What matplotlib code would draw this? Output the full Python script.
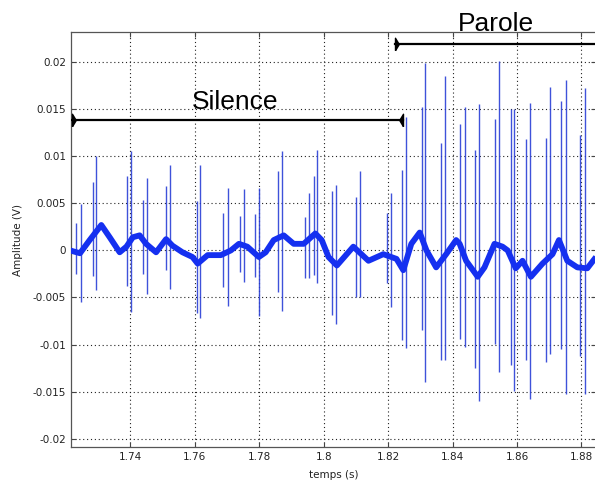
"""Speech signal excerpt: silence vs. parole (MATLAB-style plot)."""

import matplotlib

matplotlib.use("Agg")
import matplotlib.pyplot as plt

# slow baseline wave (s, V)
base_t = [1.7213, 1.7244, 1.7274, 1.7310, 1.7336, 1.7367, 1.7388, 1.7408, 1.7429,
          1.7449, 1.7480, 1.7511, 1.7531, 1.7562, 1.7593, 1.7609, 1.7640, 1.7681,
          1.7712, 1.7737, 1.7763, 1.7799, 1.7820, 1.7845, 1.7876, 1.7907, 1.7938,
          1.7974, 1.7994, 1.8015, 1.8041, 1.8092, 1.8139, 1.8185, 1.8226, 1.8247,
          1.8272, 1.8298, 1.8319, 1.8349, 1.8380, 1.8411, 1.8422, 1.8442, 1.8478,
          1.8499, 1.8530, 1.8555, 1.8571, 1.8596, 1.8617, 1.8643, 1.8679, 1.8710,
          1.8730, 1.8756, 1.8787, 1.8818, 1.8845]
base_v = [0.0000, -0.0003, 0.0011, 0.0027, 0.0014, -0.0002, 0.0004, 0.0014, 0.0016,
          0.0007, -0.0002, 0.0012, 0.0005, -0.0002, -0.0007, -0.0014, -0.0005, -0.0005,
          0.0000, 0.0007, 0.0004, -0.0007, -0.0002, 0.0011, 0.0016, 0.0007, 0.0007,
          0.0018, 0.0011, -0.0007, -0.0016, 0.0004, -0.0011, -0.0004, -0.0009, -0.0021,
          0.0007, 0.0019, 0.0000, -0.0018, -0.0004, 0.0011, 0.0007, -0.0011, -0.0028,
          -0.0018, 0.0007, 0.0004, 0.0000, -0.0019, -0.0011, -0.0028, -0.0014, -0.0004,
          0.0011, -0.0011, -0.0018, -0.0019, -0.0007]

# impulse spikes: time, max, min
spike_t = [1.7233, 1.7246, 1.7283, 1.7295, 1.7390, 1.7401, 1.7439, 1.7451, 1.7511,
           1.7524, 1.7607, 1.7617, 1.7688, 1.7702, 1.7740, 1.7753, 1.7787, 1.7799,
           1.7859, 1.7872, 1.7943, 1.7956, 1.7969, 1.7980, 1.8027, 1.8039, 1.8099,
           1.8112, 1.8195, 1.8209, 1.8244, 1.8255, 1.8304, 1.8315, 1.8365, 1.8377,
           1.8424, 1.8437, 1.8471, 1.8483, 1.8532, 1.8544, 1.8581, 1.8592, 1.8628,
           1.8641, 1.8690, 1.8701, 1.8737, 1.8751, 1.8794, 1.8810]
spike_hi = [0.0029, 0.0049, 0.0073, 0.0100, 0.0079, 0.0106, 0.0054, 0.0077, 0.0068,
            0.0091, 0.0052, 0.0091, 0.0040, 0.0066, 0.0037, 0.0065, 0.0039, 0.0066,
            0.0084, 0.0106, 0.0035, 0.0061, 0.0079, 0.0107, 0.0063, 0.0069, 0.0057,
            0.0084, 0.0040, 0.0061, 0.0085, 0.0142, 0.0152, 0.0199, 0.0114, 0.0185,
            0.0134, 0.0152, 0.0107, 0.0156, 0.0140, 0.0201, 0.0150, 0.0150, 0.0118,
            0.0157, 0.0119, 0.0174, 0.0159, 0.0181, 0.0123, 0.0173]
spike_lo = [-0.0025, -0.0055, -0.0027, -0.0042, -0.0038, -0.0065, -0.0025, -0.0046, -0.0021,
            -0.0041, -0.0067, -0.0072, -0.0039, -0.0059, -0.0023, -0.0034, -0.0028, -0.0070,
            -0.0044, -0.0064, -0.0029, -0.0029, -0.0026, -0.0035, -0.0069, -0.0078, -0.0049,
            -0.0050, -0.0035, -0.0060, -0.0095, -0.0104, -0.0084, -0.0140, -0.0116, -0.0116,
            -0.0094, -0.0103, -0.0125, -0.0160, -0.0099, -0.0129, -0.0122, -0.0149, -0.0116,
            -0.0158, -0.0118, -0.0110, -0.0105, -0.0153, -0.0112, -0.0152]

# segment annotations
silence_span = [1.7219, 1.8247]
silence_y = 0.0138
parole_span = [1.8220, 1.8900]
parole_y = 0.0219

x_ticks = [1.74, 1.76, 1.78, 1.80, 1.82, 1.84, 1.86, 1.88]
x_labels = ["1.74", "1.76", "1.78", "1.8", "1.82", "1.84", "1.86", "1.88"]
y_ticks = [-0.02, -0.015, -0.01, -0.005, 0, 0.005, 0.01, 0.015, 0.02]
y_labels = ["-0.02", "-0.015", "-0.01", "-0.005", "0", "0.005", "0.01", "0.015", "0.02"]

fig = plt.figure(figsize=(5.95, 4.84), dpi=100)
ax = fig.add_axes([71 / 595, 37 / 484, 525 / 595, 415 / 484])

ax.vlines(spike_t, spike_lo, spike_hi, color="#2a3fd6", linewidth=1.0, alpha=0.9, zorder=2)
ax.plot(base_t, base_v, color="#1530f0", linewidth=4.2,
        solid_joinstyle="round", solid_capstyle="butt", zorder=3)

# arrows with inward-pointing triangle heads
tri_right = [(0, -1), (0, 1), (0.6, 0), (0, -1)]
tri_left = [(0, -1), (0, 1), (-0.6, 0), (0, -1)]
ax.plot(silence_span, [silence_y, silence_y], color="black", linewidth=1.6, zorder=4)
ax.plot(silence_span[0], silence_y, marker=tri_right, markersize=9, color="black", zorder=5)
ax.plot(silence_span[1], silence_y, marker=tri_left, markersize=9, color="black", zorder=5)
ax.plot(parole_span, [parole_y, parole_y], color="black", linewidth=1.6, zorder=4)
ax.plot(parole_span[0], parole_y, marker=tri_right, markersize=9, color="black", zorder=5)

ax.text(1.7724, 0.01507, "Silence", ha="center", va="baseline", fontsize=19,
        family=["Liberation Sans", "DejaVu Sans"])
ax.text(1.8535, 0.0233, "Parole", ha="center", va="baseline", fontsize=19,
        family=["Liberation Sans", "DejaVu Sans"], clip_on=False)

ax.set_xlim(1.7216, 1.8845)
ax.set_ylim(-0.02088, 0.0232)
ax.set_xticks(x_ticks)
ax.set_xticklabels(x_labels)
ax.set_yticks(y_ticks)
ax.set_yticklabels(y_labels)

ax.grid(True, color="#222222", linestyle=(0, (1, 2.5)), linewidth=0.8)
ax.tick_params(direction="in", length=3.6, top=True, right=True, labelsize=7.5,
               labelcolor="#222222", color="#444444", pad=3.5)
for sp in ax.spines.values():
    sp.set_color("#555555")
    sp.set_linewidth(0.9)

ax.set_xlabel("temps (s)", fontsize=7.5, color="#222222", labelpad=6)
ax.set_ylabel("Amplitude (V)", fontsize=7.5, color="#222222", labelpad=7)

fig.savefig("out.png", dpi=100)
plt.close(fig)
